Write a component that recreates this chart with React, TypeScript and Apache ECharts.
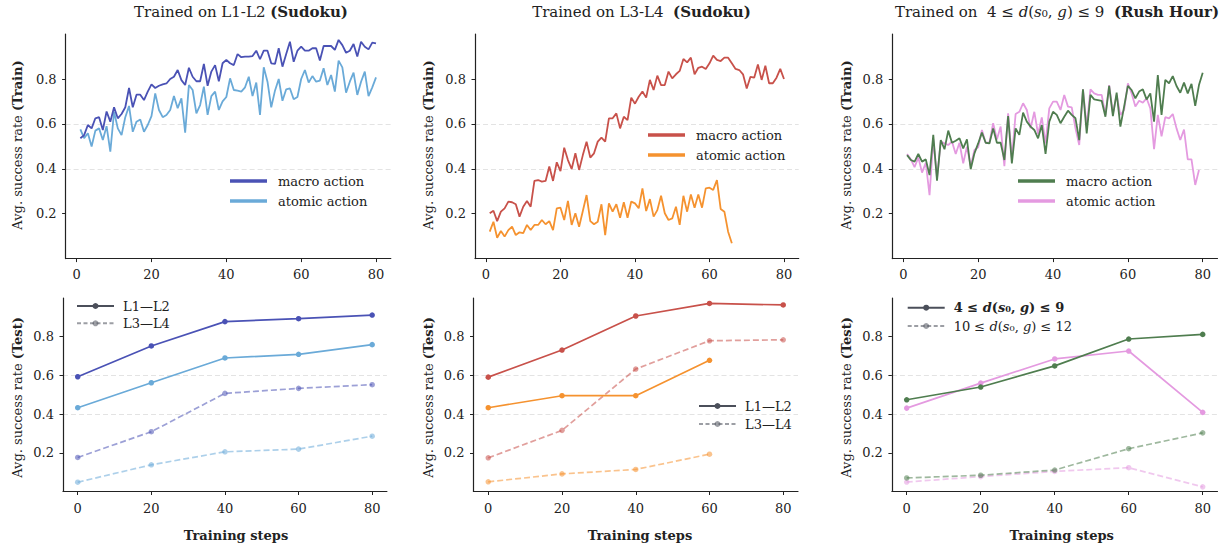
import React, { useEffect, useRef } from "react";
import * as echarts from "echarts";

// ---------- data ----------
const trainSteps: number[] = Array.from({ length: 80 }, (_, i) => i + 1);
const evalSteps = [0, 20, 40, 60, 80];
const xTicks = [0, 20, 40, 60, 80];
const yTicks = [0.2, 0.4, 0.6, 0.8];

const p1Macro = [0.536,0.55,0.595,0.58,0.625,0.63,0.573,0.655,0.61,0.674,0.625,0.644,0.674,0.76,0.674,0.73,0.73,0.706,0.744,0.776,0.76,0.77,0.776,0.78,0.80,0.81,0.84,0.795,0.773,0.85,0.81,0.79,0.79,0.867,0.77,0.833,0.862,0.79,0.87,0.885,0.87,0.862,0.911,0.897,0.90,0.90,0.902,0.926,0.888,0.926,0.926,0.87,0.867,0.937,0.855,0.911,0.966,0.877,0.926,0.944,0.926,0.926,0.937,0.937,0.882,0.947,0.947,0.947,0.93,0.974,0.951,0.917,0.926,0.956,0.90,0.966,0.944,0.932,0.962,0.959];
const p1Atomic = [0.576,0.536,0.558,0.499,0.57,0.58,0.528,0.59,0.476,0.654,0.58,0.55,0.63,0.68,0.565,0.61,0.62,0.565,0.595,0.635,0.736,0.662,0.63,0.64,0.662,0.724,0.67,0.714,0.561,0.773,0.751,0.647,0.684,0.766,0.64,0.724,0.744,0.662,0.70,0.72,0.803,0.751,0.748,0.744,0.763,0.81,0.724,0.784,0.64,0.852,0.788,0.674,0.748,0.80,0.703,0.754,0.758,0.71,0.72,0.80,0.84,0.784,0.813,0.788,0.793,0.848,0.773,0.818,0.744,0.882,0.852,0.739,0.788,0.828,0.729,0.788,0.833,0.724,0.763,0.807];
const p2Macro = [0.202,0.213,0.167,0.209,0.224,0.254,0.251,0.242,0.187,0.231,0.257,0.231,0.346,0.35,0.343,0.346,0.41,0.346,0.429,0.39,0.494,0.439,0.399,0.469,0.395,0.461,0.521,0.45,0.469,0.521,0.539,0.521,0.625,0.625,0.647,0.58,0.632,0.617,0.717,0.69,0.721,0.744,0.717,0.796,0.751,0.815,0.773,0.773,0.833,0.803,0.821,0.836,0.889,0.874,0.895,0.821,0.85,0.855,0.845,0.87,0.904,0.885,0.88,0.895,0.895,0.87,0.845,0.84,0.821,0.758,0.81,0.806,0.865,0.796,0.859,0.781,0.781,0.806,0.845,0.80];
const p2Atomic = [0.12,0.164,0.093,0.123,0.098,0.127,0.142,0.105,0.117,0.113,0.15,0.127,0.15,0.15,0.172,0.153,0.167,0.127,0.224,0.227,0.172,0.257,0.15,0.202,0.142,0.212,0.283,0.167,0.153,0.164,0.242,0.105,0.246,0.209,0.242,0.182,0.251,0.182,0.254,0.246,0.224,0.313,0.212,0.265,0.187,0.216,0.28,0.202,0.172,0.179,0.231,0.15,0.28,0.209,0.286,0.227,0.286,0.227,0.313,0.316,0.306,0.35,0.221,0.209,0.12,0.068];
const p3Macro = [0.461,0.439,0.432,0.466,0.432,0.442,0.372,0.551,0.347,0.528,0.487,0.57,0.516,0.525,0.536,0.491,0.531,0.398,0.469,0.513,0.561,0.516,0.513,0.58,0.516,0.516,0.439,0.635,0.424,0.58,0.551,0.65,0.61,0.588,0.573,0.536,0.595,0.466,0.61,0.654,0.64,0.603,0.632,0.659,0.64,0.625,0.528,0.754,0.558,0.729,0.709,0.706,0.703,0.632,0.769,0.635,0.739,0.588,0.677,0.769,0.751,0.714,0.744,0.754,0.709,0.736,0.61,0.818,0.64,0.796,0.781,0.813,0.769,0.739,0.784,0.736,0.778,0.68,0.773,0.828];
const p3Atomic = [0.466,0.442,0.407,0.451,0.383,0.427,0.283,0.531,0.358,0.521,0.513,0.506,0.521,0.466,0.516,0.424,0.499,0.412,0.484,0.496,0.573,0.516,0.516,0.603,0.531,0.588,0.412,0.647,0.447,0.644,0.654,0.692,0.662,0.58,0.654,0.555,0.629,0.513,0.669,0.699,0.699,0.662,0.729,0.677,0.674,0.58,0.506,0.754,0.588,0.754,0.736,0.729,0.729,0.64,0.773,0.647,0.729,0.64,0.662,0.781,0.736,0.677,0.703,0.695,0.714,0.669,0.487,0.64,0.545,0.63,0.625,0.644,0.58,0.528,0.575,0.442,0.442,0.328,0.395];

const b1MacroL12 = [0.593, 0.752, 0.878, 0.893, 0.912];
const b1AtomicL12 = [0.433, 0.562, 0.69, 0.709, 0.759];
const b1MacroL34 = [0.176, 0.309, 0.507, 0.533, 0.552];
const b1AtomicL34 = [0.048, 0.138, 0.205, 0.219, 0.286];
const b2MacroL12 = [0.591, 0.731, 0.907, 0.972, 0.964];
const b2AtomicL12 = [0.433, 0.495, 0.495, 0.678];
const b2MacroL34 = [0.174, 0.316, 0.633, 0.779, 0.784];
const b2AtomicL34 = [0.05, 0.091, 0.114, 0.193];
const b3MacroL12 = [0.474, 0.54, 0.649, 0.788, 0.812];
const b3AtomicL12 = [0.431, 0.56, 0.685, 0.726, 0.409];
const b3MacroL34 = [0.07, 0.084, 0.111, 0.221, 0.303];
const b3AtomicL34 = [0.049, 0.077, 0.104, 0.123, 0.024];

// ---------- styling ----------
const FONT = "DejaVu Serif";
const TXT = "#222222";
const GRID_C = "#e3e3e3";
const LEG_GRAY = "#4b4f5a";

const colors = [
  { macro: "#4a52b5", atomic: "#6aaad8" },
  { macro: "#c8514a", atomic: "#f5922f" },
  { macro: "#4f7d4f", atomic: "#e49ae0" },
];

const topGrids = [
  { left: 65.6, top: 34.1, width: 325.2, height: 224.5 },
  { left: 475, top: 34.1, width: 323.7, height: 224.5 },
  { left: 892.3, top: 34.1, width: 325.2, height: 224.5 },
];
const bottomGrids = [
  { left: 63, top: 298, width: 323.9, height: 193.5 },
  { left: 473.5, top: 298, width: 324.5, height: 193.5 },
  { left: 891.9, top: 298, width: 325.6, height: 193.5 },
];

function xAxisFor(gridIndex: number, min: number, max: number, margin: number) {
  return {
    type: "value",
    gridIndex,
    min,
    max,
    axisLine: { show: true, onZero: false, lineStyle: { color: TXT, width: 1.2 } },
    axisTick: { show: true, length: 3.5, customValues: xTicks, lineStyle: { color: TXT, width: 1 } },
    axisLabel: {
      customValues: xTicks,
      margin,
      fontFamily: FONT,
      fontSize: 13,
      color: TXT,
      formatter: (v: number) => String(Math.round(v)),
    },
    splitLine: { show: false },
  };
}

function yAxisFor(gridIndex: number) {
  return {
    type: "value",
    gridIndex,
    min: 0,
    max: 1,
    interval: 0.2,
    axisLine: { show: true, onZero: false, lineStyle: { color: TXT, width: 1.2 } },
    axisTick: { show: true, length: 3.5, customValues: yTicks, lineStyle: { color: TXT, width: 1 } },
    axisLabel: {
      customValues: yTicks,
      margin: 9,
      fontFamily: FONT,
      fontSize: 13,
      color: TXT,
      formatter: (v: number) => v.toFixed(1),
    },
    splitLine: {
      show: true,
      showMinLine: false,
      showMaxLine: false,
      lineStyle: { color: GRID_C, width: 1, type: [5, 3] },
    },
  };
}

const topData = [
  { macro: p1Macro, atomic: p1Atomic },
  { macro: p2Macro, atomic: p2Atomic },
  { macro: p3Macro, atomic: p3Atomic },
];
const bottomData = [
  { m12: b1MacroL12, a12: b1AtomicL12, m34: b1MacroL34, a34: b1AtomicL34 },
  { m12: b2MacroL12, a12: b2AtomicL12, m34: b2MacroL34, a34: b2AtomicL34 },
  { m12: b3MacroL12, a12: b3AtomicL12, m34: b3MacroL34, a34: b3AtomicL34 },
];

function buildOption() {
  const series: any[] = [];
  topData.forEach((d, g) => {
    const c = colors[g];
    series.push({
      type: "line",
      name: `P${g + 1}|atomic action`,
      xAxisIndex: g,
      yAxisIndex: g,
      data: d.atomic.map((v, i) => [trainSteps[i], v]),
      symbol: "none",
      color: c.atomic,
      lineStyle: { color: c.atomic, width: 1.8 },
      itemStyle: { color: c.atomic },
      z: 2,
    });
    series.push({
      type: "line",
      name: `P${g + 1}|macro action`,
      xAxisIndex: g,
      yAxisIndex: g,
      data: d.macro.map((v, i) => [trainSteps[i], v]),
      symbol: "none",
      color: c.macro,
      lineStyle: { color: c.macro, width: 1.8 },
      itemStyle: { color: c.macro },
      z: 3,
    });
  });
  bottomData.forEach((d, g) => {
    const c = colors[g];
    const ax = 3 + g;
    const mk = (name: string, vals: number[], col: string, dashed: boolean) => ({
      type: "line",
      name,
      xAxisIndex: ax,
      yAxisIndex: ax,
      data: vals.map((v, i) => [evalSteps[i], v]),
      symbol: "circle",
      symbolSize: 5.5,
      showSymbol: true,
      color: col,
      lineStyle: { color: col, width: 1.7, type: dashed ? [6, 3] : "solid", opacity: dashed ? 0.55 : 1 },
      itemStyle: { color: col, opacity: dashed ? 0.55 : 1 },
    });
    series.push(mk(`B${g + 1} atomic L3-L4`, d.a34, c.atomic, true));
    series.push(mk(`B${g + 1} macro L3-L4`, d.m34, c.macro, true));
    series.push(mk(`B${g + 1} atomic L1-L2`, d.a12, c.atomic, false));
    series.push(mk(`B${g + 1} macro L1-L2`, d.m12, c.macro, false));
    // legend proxies
    series.push({
      type: "line",
      name: `B${g + 1}|solid`,
      xAxisIndex: ax,
      yAxisIndex: ax,
      data: [],
      symbol: "circle",
      symbolSize: 6,
      color: LEG_GRAY,
      lineStyle: { color: LEG_GRAY, width: 3 },
      itemStyle: { color: LEG_GRAY },
    });
    series.push({
      type: "line",
      name: `B${g + 1}|dashed`,
      xAxisIndex: ax,
      yAxisIndex: ax,
      data: [],
      symbol: "circle",
      symbolSize: 6,
      color: LEG_GRAY,
      lineStyle: { color: LEG_GRAY, width: 3, type: [4, 2.5], opacity: 0.55 },
      itemStyle: { color: LEG_GRAY, opacity: 0.55 },
    });
  });

  const baseText = { fontFamily: FONT, fontSize: 13, color: TXT, lineHeight: 14 };
  const mathRich = {
    n: { fontFamily: FONT, fontSize: 13, color: TXT, lineHeight: 14 },
    i: { fontFamily: FONT, fontSize: 13, color: TXT, fontStyle: "italic", lineHeight: 14 },
    bn: { fontFamily: FONT, fontSize: 13, color: TXT, fontWeight: "bold", lineHeight: 14 },
    bi: { fontFamily: FONT, fontSize: 13, color: TXT, fontWeight: "bold", fontStyle: "italic", lineHeight: 14 },
  };

  const topLegend = (g: number, left: number, top: number) => ({
    data: [`P${g}|macro action`, `P${g}|atomic action`],
    orient: "vertical",
    left,
    top,
    icon: "rect",
    itemWidth: 37,
    itemHeight: 3.5,
    itemGap: 6,
    padding: 0,
    selectedMode: false,
    formatter: (name: string) => name.split("|")[1],
    textStyle: { ...baseText, padding: [0, 0, 0, 6] },
  });
  const bottomLegend = (g: number, left: number, top: number, gap: number, formatter: (n: string) => string, rich?: any) => ({
    data: [`B${g}|solid`, `B${g}|dashed`],
    orient: "vertical",
    left,
    top,
    itemWidth: 37,
    itemHeight: 7.5,
    itemGap: gap,
    padding: 0,
    selectedMode: false,
    formatter,
    textStyle: { ...baseText, padding: [0, 0, 0, 4], rich },
  });
  const l12 = (n: string) => (n.endsWith("solid") ? "L1—L2" : "L3—L4");
  const mathLeg = (n: string) =>
    n.endsWith("solid")
      ? "{bn|4 ≤ }{bi|d}{bn|(}{bi|s}{bn|₀, }{bi|g}{bn|) ≤ 9}"
      : "{n|10 ≤ }{i|d}{n|(}{i|s}{n|₀, }{i|g}{n|) ≤ 12}";

  const titleRich = {
    n: { fontFamily: FONT, fontSize: 15, fill: TXT, color: TXT },
    i: { fontFamily: FONT, fontSize: 15, fill: TXT, color: TXT, fontStyle: "italic" },
    b: { fontFamily: FONT, fontSize: 15, fill: TXT, color: TXT, fontWeight: "bold" },
  };
  const labelRich = {
    n: { fontFamily: FONT, fontSize: 13, fill: TXT, color: TXT },
    b: { fontFamily: FONT, fontSize: 13, fill: TXT, color: TXT, fontWeight: "bold" },
  };
  const txt = (x: number, y: number, text: string, rich: any, rotation = 0) => ({
    type: "text",
    x,
    y,
    rotation,
    silent: true,
    style: {
      text,
      rich,
      align: "center",
      verticalAlign: "middle",
      textAlign: "center",
      textVerticalAlign: "middle",
      fill: TXT,
      font: `13px "${FONT}"`,
    },
  });

  const titles = [
    { x: 241, text: "{n|Trained on L1-L2 }{b|(Sudoku)}" },
    { x: 641.5, text: "{n|Trained on L3-L4  }{b|(Sudoku)}" },
    { x: 1057, text: "{n|Trained on  4 ≤ }{i|d}{n|(}{i|s}{n|₀, }{i|g}{n|) ≤ 9  }{b|(Rush Hour)}" },
  ];
  const yLabelX = [17, 428, 846.7];
  const xLabelX = [236, 640, 1061.7];

  const graphic: any[] = [];
  titles.forEach((t) => graphic.push(txt(t.x, 12, t.text, titleRich)));
  yLabelX.forEach((x) => {
    graphic.push(txt(x, 145, "{n|Avg. success rate }{b|(Train)}", labelRich, Math.PI / 2));
    graphic.push(txt(x, 397.5, "{n|Avg. success rate }{b|(Test)}", labelRich, Math.PI / 2));
  });
  xLabelX.forEach((x) => graphic.push(txt(x, 535, "{b|Training steps}", labelRich)));

  return {
    animation: false,
    backgroundColor: "#ffffff",
    grid: [...topGrids, ...bottomGrids].map((g) => ({ ...g, containLabel: false })),
    xAxis: [
      xAxisFor(0, -2.95, 83.95, 9),
      xAxisFor(1, -2.95, 83.95, 9),
      xAxisFor(2, -2.95, 83.95, 9),
      xAxisFor(3, -4, 84, 10),
      xAxisFor(4, -4, 84, 10),
      xAxisFor(5, -4, 84, 10),
    ],
    yAxis: [0, 1, 2, 3, 4, 5].map((g) => yAxisFor(g)),
    legend: [
      topLegend(1, 230, 174),
      topLegend(2, 648, 128),
      topLegend(3, 1018, 174),
      bottomLegend(1, 76, 299, 3.3, l12),
      bottomLegend(2, 698, 399, 4, l12),
      bottomLegend(3, 906.7, 300.7, 4.3, mathLeg, mathRich),
    ],
    series,
    graphic,
  };
}

export default function App() {
  const ref = useRef<HTMLDivElement>(null);
  useEffect(() => {
    if (!ref.current) return;
    const chart = echarts.init(ref.current, undefined, { renderer: "svg" });
    chart.setOption(buildOption() as any);
    return () => chart.dispose();
  }, []);
  return (
    <div
      ref={ref}
      style={{ position: "fixed", left: 0, top: 0, width: 1225, height: 548, background: "#fff" }}
    />
  );
}
